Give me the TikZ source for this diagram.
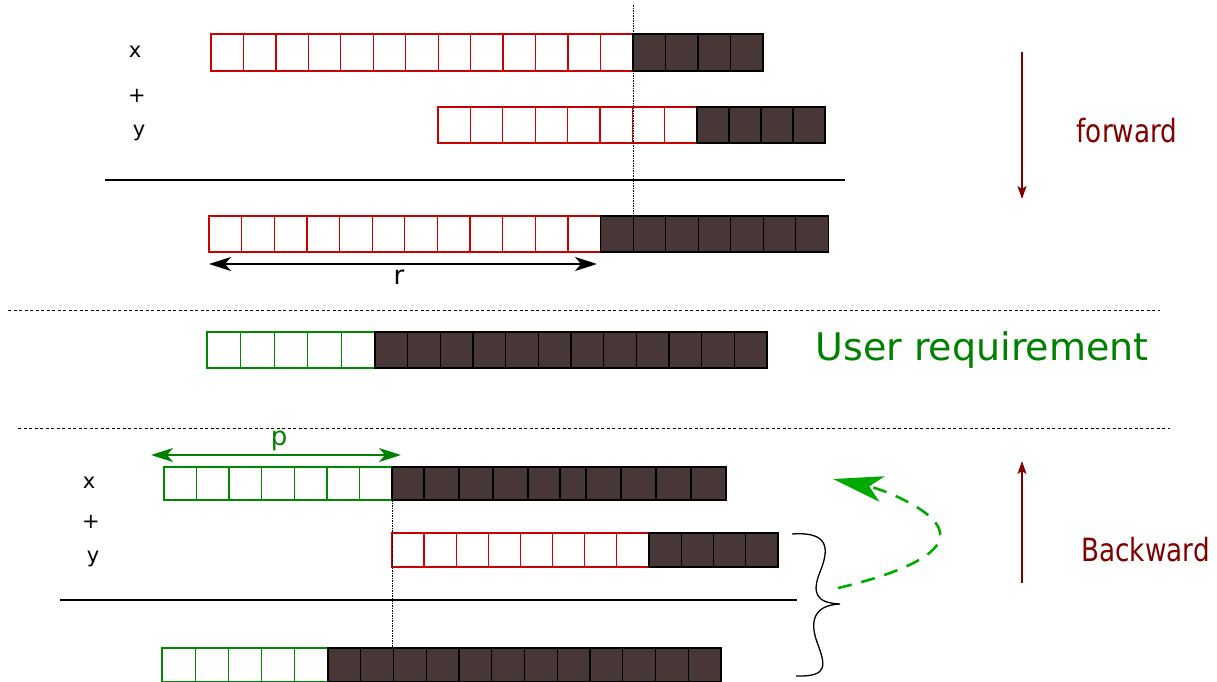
\documentclass[tikz,border=0pt]{standalone}
\usepackage{fontspec}
\setmainfont{DejaVu Sans}
\usepackage{graphicx}
\usetikzlibrary{arrows.meta}

\definecolor{cellred}{RGB}{204,0,0}
\definecolor{cellgreen}{RGB}{0,136,0}
\definecolor{cellfill}{RGB}{72,55,55}
\definecolor{darkred}{RGB}{128,0,0}
\definecolor{labelgreen}{RGB}{0,128,0}
\definecolor{curvegreen}{RGB}{0,170,0}

\tikzset{
  cell/.style={draw, line width=1.3pt, inner sep=0pt, outer sep=0pt, anchor=north west, fill=white},
  redcell/.style={cell, draw=cellred},
  greencell/.style={cell, draw=cellgreen},
  darkcell/.style={cell, draw=black, fill=cellfill},
  var/.style={inner sep=0pt, font=\fontsize{21}{24}\selectfont},
  dimlabel/.style={inner sep=0pt, font=\fontsize{26}{28}\selectfont},
  dirlabel/.style={inner sep=0pt, text=darkred, font=\fontsize{32}{36}\selectfont},
  dimarrow/.style={line width=1.6pt, {Stealth[length=22pt,width=14pt,inset=6pt]}-{Stealth[length=22pt,width=14pt,inset=6pt]}},
  dirarrow/.style={line width=1.6pt, draw=darkred, -{Stealth[length=13pt,width=9pt,inset=3pt]}},
  sumline/.style={line width=1.6pt},
  separator/.style={line width=1pt, dash pattern=on 3pt off 2.5pt},
  alignline/.style={line width=1pt, dash pattern=on 1.5pt off 1pt},
}

% one row of equal cells: name, style, left, top, cell width, cell height, count
\newcommand{\cellrow}[7]{%
  \foreach \k in {1,...,#7}{%
    \node[#2, minimum width=#5pt, minimum height=#6pt] (#1\k) at ({#3+(\k-1)*#5}, #4) {};
  }%
}

\begin{document}
\begin{tikzpicture}[x=1pt, y=-1pt]
\useasboundingbox (0,0) rectangle (1217,681);

% ---------- forward pass ----------
\cellrow{xr}{redcell}{211}{34}{32.46}{37}{13}
\cellrow{xd}{darkcell}{633}{34}{32.5}{37}{4}
\cellrow{yr}{redcell}{438}{107}{32.4}{36}{8}
\cellrow{yd}{darkcell}{697}{107}{32}{36}{4}

\node[var] (xa) at (135,52) {x};
\node[var] (pa) at (137,96) {+};
\node[var] (ya) at (139,133) {y};

\coordinate (sumAL) at (105,180);
\coordinate (sumAR) at (845,180);
\draw[sumline] (sumAL) -- (sumAR);

\cellrow{zr}{redcell}{209}{216}{32.64}{36}{12}
\cellrow{zd}{darkcell}{600.7}{216}{32.5}{36}{7}

\coordinate (rL) at (209,264);
\coordinate (rR) at (597,264);
\draw[dimarrow] (rL) -- (rR);
\node[dimlabel] (rlab) at (399,277) {r};

\coordinate (alignA) at (633,5);
\draw[alignline] (alignA) -- (alignA |- zd2.north);

% ---------- separators ----------
\coordinate (sepAL) at (8,310);
\coordinate (sepAR) at (1160,310);
\coordinate (sepBL) at (18,428);
\coordinate (sepBR) at (1170,428);
\draw[separator] (sepAL) -- (sepAR);
\draw[separator] (sepBL) -- (sepBR);

% ---------- requirement ----------
\cellrow{ug}{greencell}{207}{332}{33.6}{36}{5}
\cellrow{ud}{darkcell}{375}{332}{32.67}{36}{12}
\node[inner sep=0pt, text=labelgreen, font=\fontsize{38}{40}\selectfont] (req) at (982,350) {User requirement};

% ---------- backward pass ----------
\cellrow{bxg}{greencell}{164}{467}{32.57}{33}{7}
\foreach \a/\b [count=\k] in {392/424,424/459,459/493,493/528,528/560,560/586,586/621,621/656,656/691,691/726}{%
  \node[darkcell, minimum width={\b-\a}, minimum height=33pt] (bxd\k) at (\a,467) {};
}

\coordinate (pL) at (151,455);
\coordinate (pR) at (401,455);
\draw[dimarrow, draw=labelgreen, fill=labelgreen] (pL) -- (pR);
\node[dimlabel, text=labelgreen] (plab) at (279,441) {p};

\node[var] (xb) at (89,483) {x};
\node[var] (pb) at (91,522) {+};
\node[var] (yb) at (93,559) {y};

\cellrow{byr}{redcell}{392}{533}{32.1}{34}{8}
\cellrow{byd}{darkcell}{649}{533}{32.25}{34}{4}

\coordinate (sumBL) at (60,600);
\coordinate (sumBR) at (797,600);
\draw[sumline] (sumBL) -- (sumBR);

\cellrow{bzg}{greencell}{162}{648}{33.2}{34}{5}
\cellrow{bzd}{darkcell}{328}{648}{32.75}{34}{12}

\draw[alignline] (bxd1.south west) -- (bxd1.south west |- bzd3.north);

% brace grouping the lower sum
\coordinate (brTop) at (792,534);
\coordinate (brTip) at (840,604);
\coordinate (brBot) at (796,676);
\draw[line width=1.3pt] (brTop) .. controls (832,531) and (828,552) .. (820,572)
  .. controls (812,592) and (815,603) .. (brTip)
  .. controls (815,605) and (809,620) .. (817,642)
  .. controls (825,664) and (830,677) .. (brBot);

% feedback towards the x row
\coordinate (fbStart) at (838,588);
\coordinate (fbTip) at (833,479);
\draw[curvegreen, line width=2.6pt, dash pattern=on 14pt off 10pt,
      -{Stealth[length=50pt,width=26pt,inset=13pt]}]
  (fbStart) .. controls (890,576) and (945,556) .. (940,532)
  .. controls (936,510) and (882,489) .. (fbTip);

% ---------- direction arrows ----------
\coordinate (fwTop) at (1022,52);
\coordinate (fwBot) at (1022,199);
\draw[dirarrow] (fwTop) -- (fwBot);
\node[dirlabel] (fw) at (1127,130.5) {\scalebox{0.82}[1]{forward}};

\coordinate (bwBot) at (1022,583);
\coordinate (bwTop) at (1022,461);
\draw[dirarrow] (bwBot) -- (bwTop);
\node[dirlabel] (bw) at (1145.5,549.5) {\scalebox{0.82}[1]{Backward}};
\end{tikzpicture}
\end{document}
